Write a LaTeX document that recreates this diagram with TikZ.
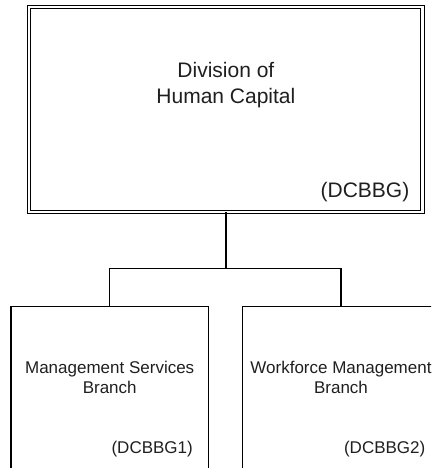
\documentclass[tikz,border=0pt]{standalone}
\usepackage{fontspec}
\setmainfont{Liberation Sans}
\usetikzlibrary{positioning}

\tikzset{
  topbox/.style={draw, double, line width=1.1pt, double distance=2.2pt,
    minimum width=393.3pt, minimum height=204.4pt, inner sep=0pt},
  branchbox/.style={draw, line width=1.3pt, minimum width=197.3pt,
    minimum height=240pt, inner sep=0pt},
  bigtext/.style={text=black!88, align=center, inner sep=0pt,
    font=\fontsize{21}{26}\selectfont},
  smalltext/.style={text=black!88, align=center, inner sep=0pt,
    font=\fontsize{17}{20}\selectfont},
  link/.style={line width=1.4pt}
}

\begin{document}
\begin{tikzpicture}[x=1pt,y=-1pt]
     \useasboundingbox (0,0) rectangle (431,468);
     \clip (0,0) rectangle (431,468);
     % division
     \node[topbox] (dhc) at (225.9,109.5) {};
     \node[bigtext] (dhcname) at (225.9,85) {Division of\\Human Capital};
     \node[bigtext, anchor=base east] (dhccode) at (409.5,197) {(DCBBG)};
     % branches
     \node[branchbox, anchor=north] (msb) at (109.7,305.7) {};
     \node[branchbox, anchor=north] (wmb) at (341,305.7) {};
     \node[smalltext] (msbname) at (109.7,377) {Management Services\\Branch};
     \node[smalltext] (wmbname) at (341,377) {Workforce Management\\Branch};
     \node[smalltext, anchor=base east] (msbcode) at (193,453) {(DCBBG1)};
     \node[smalltext, anchor=base east] (wmbcode) at (425.5,453) {(DCBBG2)};
     % connectors
     \draw[link] (dhc.south) -- ++(0,56.5) coordinate (split);
     \draw[link] (msb.north) |- (split) -| (wmb.north);
\end{tikzpicture}
\end{document}
